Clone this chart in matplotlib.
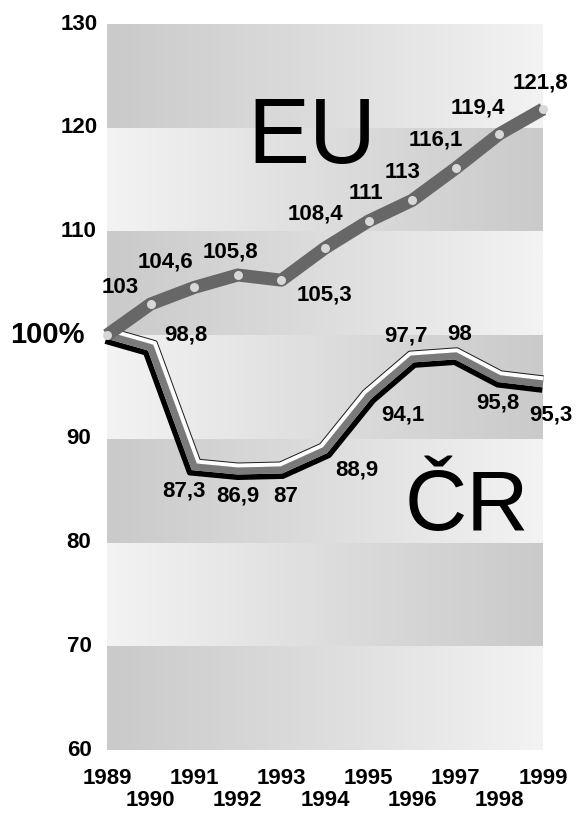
import numpy as np
import matplotlib
matplotlib.use("Agg")
import matplotlib.pyplot as plt
from matplotlib.colors import LinearSegmentedColormap
from matplotlib.transforms import blended_transform_factory

# data (index 1989 = 100)
years = [1989, 1990, 1991, 1992, 1993, 1994, 1995, 1996, 1997, 1998, 1999]
eu = [100, 103, 104.6, 105.8, 105.3, 108.4, 111, 113, 116.1, 119.4, 121.8]
cr = [100, 98.8, 87.3, 86.9, 87, 88.9, 94.1, 97.7, 98, 95.8, 95.3]
eu_labels = ["", "103", "104,6", "105,8", "105,3", "108,4", "111", "113", "116,1", "119,4", "121,8"]
cr_labels = ["", "98,8", "87,3", "86,9", "87", "88,9", "94,1", "97,7", "98", "95,8", "95,3"]
ytick_vals = [60, 70, 80, 90, 100, 110, 120, 130]
ytick_text = ["60", "70", "80", "90", "100%", "110", "120", "130"]
band_edges = [60, 70, 80, 90, 100, 110, 120, 130]

# label offsets in pixels (dx, dy) from each point
eu_off = [(0, 0), (-30, 17), (-29, 25), (-7, 23), (43, -15), (-10, 34),
          (-3, 28), (-10, 28), (-20, 28), (-22, 26), (-3, 26)]
cr_off = [(0, 0), (35, 13), (-10, -24), (0, -25), (4, -27), (32, -20),
          (34, -19), (-6, 23), (4, 21), (-2, -24), (8, -31)]

FONT = "Liberation Sans"
PX = 0.72  # points per pixel at dpi 100
FS = 16

fig = plt.figure(figsize=(5.76, 8.13), dpi=100)
W, H = 576, 813
ax = fig.add_axes([107 / W, (H - 750) / H, (543 - 107) / W, (750 - 24) / H])
ax.set_xlim(1989, 1999)
ax.set_ylim(60, 130)
for s in ax.spines.values():
    s.set_visible(False)

# gradient bands, alternating direction
cmap = LinearSegmentedColormap.from_list("band", ["#cacaca", "#dddddd", "#f3f3f3"])
grad = np.linspace(0, 1, 256)[np.newaxis, :]
for i, (lo, hi) in enumerate(zip(band_edges[:-1], band_edges[1:])):
    g = grad if i % 2 == 0 else grad[:, ::-1]
    ax.imshow(g, extent=(1989, 1999, lo, hi), aspect="auto", cmap=cmap,
              vmin=0, vmax=1, zorder=0, interpolation="bilinear")
ax.set_xlim(1989, 1999)
ax.set_ylim(60, 130)


def offset_curve(x, y, d):
    # shift a polyline by d pixels along its normal (positive = upper side)
    pts = ax.transData.transform(np.column_stack([x, y]))
    seg = np.diff(pts, axis=0)
    seg /= np.linalg.norm(seg, axis=1)[:, None]
    nrm = np.column_stack([-seg[:, 1], seg[:, 0]])
    vn = np.empty_like(pts)
    vn[0] = nrm[0]
    vn[-1] = nrm[-1]
    mid = nrm[:-1] + nrm[1:]
    mid /= np.linalg.norm(mid, axis=1)[:, None]
    cos = np.sum(mid * nrm[1:], axis=1)
    vn[1:-1] = mid / cos[:, None]
    out = ax.transData.inverted().transform(pts + d * vn)
    return out[:, 0], out[:, 1]


# CR ribbon: black shadow, grey body, white highlight with dark edge
for d, w, c in [(-6.25, 5.5, "black"), (0, 7, "#7a7a7a"), (6, 5, "#1e1e1e"), (5.5, 4, "white")]:
    xs, ys = offset_curve(years, cr, d)
    ax.plot(xs, ys, color=c, lw=w * PX, solid_capstyle="butt",
            solid_joinstyle="round", zorder=3, clip_on=False)

# EU line with light dots
ax.plot(years, eu, color="#676767", lw=13 * PX, solid_capstyle="butt",
        solid_joinstyle="round", zorder=4, clip_on=False)
ax.plot(years, eu, ls="none", marker="o", ms=9 * PX, mfc="#d8d8d8", mec="none",
        zorder=5, clip_on=False)

for x, v, t, (dx, dy) in zip(years, eu, eu_labels, eu_off):
    if t:
        ax.annotate(t, (x, v), xytext=(dx, dy), textcoords="offset pixels",
                    ha="center", va="center", fontsize=FS, fontweight="bold",
                    family=FONT, zorder=6)
for x, v, t, (dx, dy) in zip(years, cr, cr_labels, cr_off):
    if t:
        ax.annotate(t, (x, v), xytext=(dx, dy), textcoords="offset pixels",
                    ha="center", va="center", fontsize=FS, fontweight="bold",
                    family=FONT, zorder=6)

ax.text(1992.23, 116.6, "EU", fontsize=67, family=FONT, va="baseline", ha="left", zorder=2)
ax.text(1995.83, 81.2, "ČR", fontsize=62, family=FONT, va="baseline", ha="left", zorder=2)

# y axis labels, centred in a column left of the plot; 100% larger
ax.set_yticks(ytick_vals, [])
ax.tick_params(axis="y", length=0)
ylab_tr = blended_transform_factory(fig.transFigure, ax.transData)
for v, t in zip(ytick_vals, ytick_text):
    big = t.endswith("%")
    fig.text((47 if big else 79) / W, v, t, transform=ylab_tr,
             ha="center", va="center", fontsize=21 if big else FS,
             fontweight="bold", family=FONT)

# x axis: odd years on first row, even years below
odd = [y for y in years if y % 2 == 1]
even = [y for y in years if y % 2 == 0]
ax.set_xticks(odd, [str(y) for y in odd])
ax.set_xticks(even, [str(y) for y in even], minor=True)
ax.tick_params(axis="x", which="major", length=0, pad=13)
ax.tick_params(axis="x", which="minor", length=0, pad=29)
for lab in ax.get_xticklabels() + ax.get_xticklabels(minor=True):
    lab.set_fontsize(FS)
    lab.set_fontweight("bold")
    lab.set_family(FONT)

fig.savefig("out.png", dpi=100)
